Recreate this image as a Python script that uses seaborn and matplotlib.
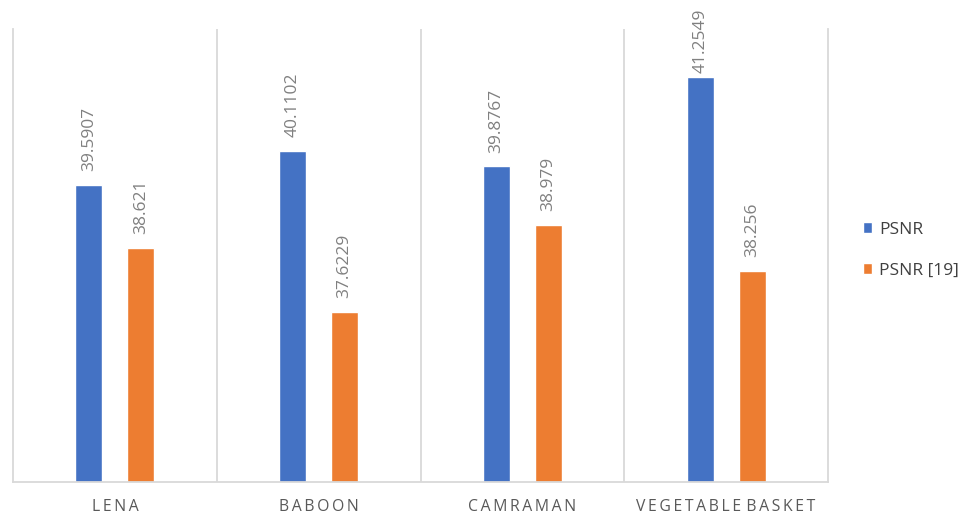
import matplotlib
matplotlib.use("Agg")
import matplotlib.pyplot as plt
from matplotlib.patches import Patch
import seaborn as sns
import pandas as pd

categories = ["LENA", "BABOON", "CAMRAMAN", "VEGETABLE BASKET"]
series_names = ["PSNR", "PSNR [19]"]
psnr = [39.5907, 40.1102, 39.8767, 41.2549]
psnr_ref = [38.621, 37.6229, 38.979, 38.256]
value_labels = [["39.5907", "40.1102", "39.8767", "41.2549"],
                ["38.621", "37.6229", "38.979", "38.256"]]

colors = ["#4472C4", "#ED7D31"]

sns.set_theme(style="white")
plt.rcParams["font.family"] = ["Open Sans", "DejaVu Sans"]

df = pd.DataFrame({
    "image": categories * 2,
    "series": [series_names[0]] * 4 + [series_names[1]] * 4,
    "value": psnr + psnr_ref,
})

fig = plt.figure(figsize=(9.67, 5.16), dpi=100)
ax = fig.add_axes([13 / 967, 34 / 516, 815 / 967, 453 / 516])

sns.barplot(data=df, x="image", y="value", hue="series", order=categories,
            hue_order=series_names, palette=colors, width=0.51, gap=0.48,
            saturation=1, legend=False, ax=ax)

ax.set_ylim(35, 42)
ax.set_xlim(-0.5, 3.5)
ax.set_yticks([])
ax.set_xlabel("")
ax.set_ylabel("")

# category separators
grid_c = "#d9d9d9"
for xb in [0.5, 1.5, 2.5]:
    ax.axvline(xb, color=grid_c, lw=1.3, zorder=0)
ax.spines["top"].set_visible(False)
for side in ["left", "right", "bottom"]:
    ax.spines[side].set_color(grid_c)
    ax.spines[side].set_linewidth(1.3)

# letter-spaced category labels
def spaced(text):
    return "\u2009".join(list(text)).replace("\u2009 \u2009", "\u2009\u2009")

ax.set_xticks(range(len(categories)))
ax.set_xticklabels([spaced(c) for c in categories],
                   fontsize=11.3, color="#595959")
ax.tick_params(axis="x", length=0, pad=12)

# value labels above bars
annots = []
for containers, labels in zip(ax.containers, value_labels):
    for bar, lab in zip(containers, labels):
        a = ax.annotate(lab, (bar.get_x() + bar.get_width() / 2, bar.get_height()),
                        xytext=(0, 10), textcoords="offset points",
                        rotation=90, ha="center", va="bottom",
                        fontsize=12.5, color="#808080")
        annots.append(a)

# keep labels inside the figure: nudge down those that would run off the top
fig.canvas.draw()
renderer = fig.canvas.get_renderer()
limit = fig.bbox.height - 9
for a in annots:
    ext = a.get_window_extent(renderer)
    if ext.y1 > limit:
        excess_pt = (ext.y1 - limit) * 72 / fig.dpi
        a.xyann = (0, 10 - excess_pt)

handles = [Patch(facecolor=c, label=n) for c, n in zip(colors, series_names)]
fig.legend(handles=handles, loc="center left", bbox_to_anchor=(0.876, 0.515),
           frameon=False, fontsize=12.5, labelcolor="#404040",
           handlelength=0.55, handleheight=0.55, handletextpad=0.4,
           labelspacing=1.45)

fig.savefig("out.png", dpi=100)
